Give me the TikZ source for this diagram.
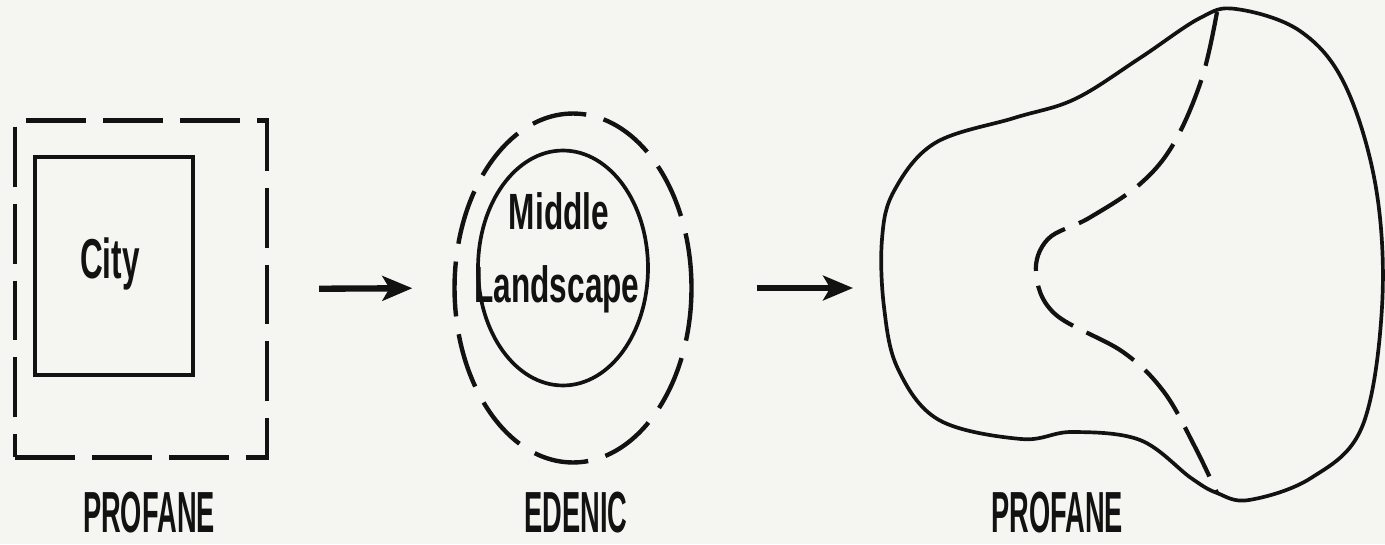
\documentclass[tikz,border=0pt]{standalone}
\usepackage{fontspec}
\usetikzlibrary{arrows.meta,positioning,shapes.geometric}
\newfontfamily\capsfont{Liberation Sans}[FakeStretch=0.47]
\newfontfamily\smallfont{Liberation Sans}[FakeStretch=0.62]
\newfontfamily\cityfont{Liberation Sans}[FakeStretch=0.56]
\definecolor{PaperWhite}{RGB}{245,245,241}
\definecolor{InkBlack}{RGB}{18,18,18}
\tikzset{
  region/.style={draw=InkBlack,line width=2.1pt,inner sep=0pt},
  dashregion/.style={region,line width=2.5pt,dash pattern=on 1.2cm off 0.34cm},
  oval/.style={ellipse,draw=InkBlack,line width=2.1pt,inner sep=0pt},
  dashoval/.style={oval,line width=2.5pt,dash pattern=on 1.1cm off 0.36cm},
  caption/.style={font=\capsfont\bfseries\fontsize{33}{38}\selectfont,
    text=InkBlack,inner sep=0pt,anchor=base},
  inlabel/.style={font=\smallfont\bfseries\fontsize{29}{34}\selectfont,
    text=InkBlack,inner sep=0pt,anchor=base},
  arrow/.style={-{Stealth[length=17pt,width=14pt,inset=4pt]},
    line width=3.6pt,InkBlack}
}
\begin{document}
\begin{tikzpicture}[x=0.02cm,y=-0.02cm]
  \useasboundingbox (0,0) rectangle (1385,544);
  \fill[PaperWhite] (0,0) rectangle (1385,544);
  % profane city
  \node[dashregion,minimum width=5.04cm,minimum height=6.74cm] (outsq) at (141,289) {};
  \node[region,minimum width=3.16cm,minimum height=4.36cm] (citysq) at (114,266) {};
  \node[inlabel,font=\cityfont\bfseries\fontsize{32}{36}\selectfont] (city) at (110,278) {City};
  \node[caption] (lprof) at (149,532) {PROFANE};
  % edenic middle landscape
  \node[dashoval,minimum width=4.74cm,minimum height=6.98cm] (eden) at (573,288) {};
  \node[oval,minimum width=3.4cm,minimum height=4.7cm] (middle) at (563,268) {};
  \node[inlabel] (mid1) at (559,229) {Middle};
  \node[inlabel] (mid2) at (557,302) {Landscape};
  \node[caption] (elbl) at (576,532) {EDENIC};
  % profane blob
  \coordinate (blobw) at (882,288);
  \draw[InkBlack,line width=2.1pt] plot[smooth cycle,tension=0.6] coordinates {
    (1236,9) (1300,31) (1345,85) (1376,188) (1382,307) (1362,427) (1311,478)
    (1249,500) (1217,493) (1191,478) (1140,440) (1072,432) (1021,439)
    (939,420) (898,369) (884,307) (882,239) (894,191) (935,143) (1014,118)
    (1075,99) (1140,58) (1200,18)};
  \draw[InkBlack,line width=2.4pt,dash pattern=on 1.1cm off 0.3cm]
    plot[smooth,tension=0.6] coordinates {(1217,12) (1202,78) (1174,143)
    (1140,184) (1089,218) (1048,239) (1036,273) (1055,314) (1123,352)
    (1164,392) (1195,447) (1217,493)};
  \node[caption] (rprof) at (1057,532) {PROFANE};
  % arrows
  \draw[arrow,shorten <=1.0cm,shorten >=0.8cm] (outsq.east) -- (eden.west);
  \draw[arrow,shorten <=1.26cm,shorten >=0.58cm] (eden.east) -- (blobw);
\end{tikzpicture}
\end{document}
